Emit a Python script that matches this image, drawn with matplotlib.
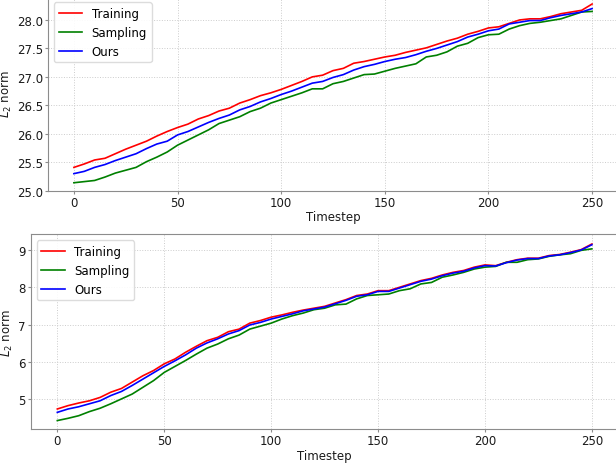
import matplotlib
matplotlib.use("Agg")
import matplotlib.pyplot as plt
import numpy as np

# timesteps sampled every 5 steps
steps = list(range(0, 251, 5))

# --- top panel ---
top_training = [25.41, 25.47, 25.54, 25.57, 25.65, 25.73, 25.80, 25.87, 25.96, 26.04,
                26.11, 26.17, 26.26, 26.32, 26.40, 26.45, 26.54, 26.60, 26.67, 26.72,
                26.78, 26.85, 26.92, 27.00, 27.03, 27.11, 27.15, 27.24, 27.27, 27.31,
                27.35, 27.38, 27.43, 27.47, 27.51, 27.57, 27.63, 27.68, 27.75, 27.80,
                27.86, 27.88, 27.94, 28.00, 28.02, 28.02, 28.06, 28.11, 28.14, 28.17,
                28.28]
top_sampling = [25.14, 25.16, 25.18, 25.24, 25.31, 25.36, 25.41, 25.51, 25.59, 25.68,
                25.80, 25.89, 25.98, 26.07, 26.18, 26.24, 26.30, 26.39, 26.45, 26.54,
                26.60, 26.66, 26.72, 26.79, 26.79, 26.88, 26.92, 26.98, 27.04, 27.05,
                27.10, 27.15, 27.19, 27.23, 27.35, 27.38, 27.44, 27.54, 27.59, 27.69,
                27.74, 27.75, 27.84, 27.90, 27.94, 27.96, 27.99, 28.02, 28.08, 28.14,
                28.15]
top_ours = [25.30, 25.34, 25.41, 25.46, 25.53, 25.59, 25.65, 25.74, 25.82, 25.87,
            25.98, 26.04, 26.12, 26.20, 26.27, 26.33, 26.42, 26.48, 26.56, 26.62,
            26.69, 26.75, 26.82, 26.89, 26.92, 26.99, 27.04, 27.12, 27.18, 27.22,
            27.27, 27.31, 27.34, 27.39, 27.45, 27.50, 27.56, 27.62, 27.70, 27.75,
            27.81, 27.84, 27.93, 27.96, 27.99, 27.99, 28.04, 28.08, 28.11, 28.14,
            28.20]

# --- bottom panel ---
bot_training = [4.74, 4.83, 4.90, 4.96, 5.05, 5.19, 5.29, 5.46, 5.63, 5.77,
                5.95, 6.08, 6.26, 6.42, 6.57, 6.66, 6.81, 6.88, 7.04, 7.11,
                7.20, 7.26, 7.33, 7.39, 7.44, 7.49, 7.58, 7.67, 7.78, 7.82,
                7.91, 7.91, 8.00, 8.09, 8.18, 8.24, 8.33, 8.40, 8.45, 8.54,
                8.60, 8.58, 8.67, 8.74, 8.78, 8.78, 8.85, 8.88, 8.94, 9.01,
                9.16]
bot_sampling = [4.43, 4.49, 4.56, 4.67, 4.76, 4.88, 5.01, 5.14, 5.32, 5.50,
                5.72, 5.88, 6.04, 6.21, 6.37, 6.48, 6.62, 6.72, 6.88, 6.96,
                7.04, 7.15, 7.24, 7.31, 7.40, 7.44, 7.53, 7.55, 7.69, 7.78,
                7.80, 7.82, 7.91, 7.96, 8.09, 8.13, 8.27, 8.33, 8.40, 8.49,
                8.54, 8.56, 8.67, 8.67, 8.74, 8.76, 8.83, 8.87, 8.90, 8.99,
                9.03]
bot_ours = [4.65, 4.74, 4.80, 4.88, 4.96, 5.10, 5.21, 5.37, 5.54, 5.71,
            5.88, 6.03, 6.19, 6.37, 6.51, 6.62, 6.75, 6.84, 6.99, 7.06,
            7.15, 7.22, 7.29, 7.37, 7.42, 7.47, 7.56, 7.65, 7.76, 7.80,
            7.89, 7.89, 7.98, 8.07, 8.16, 8.22, 8.31, 8.38, 8.43, 8.52,
            8.58, 8.57, 8.66, 8.73, 8.77, 8.77, 8.84, 8.87, 8.93, 9.00,
            9.14]

plt.rcParams['font.size'] = 8.5

fig = plt.figure(figsize=(6.16, 4.64), dpi=100)
ax1 = fig.add_axes([48 / 616, 1 - 192 / 464, 570 / 616, 192 / 464 + 0.01])
ax2 = fig.add_axes([30.6 / 616, 1 - 430.3 / 464, 588 / 616, 195 / 464])

panels = [
    (ax1, top_training, top_sampling, top_ours, (24.995, 28.45)),
    (ax2, bot_training, bot_sampling, bot_ours, (4.196, 9.42)),
]

for ax, tr, sa, ou, ylim in panels:
    ax.plot(steps, tr, color='red', lw=1.2, label='Training')
    ax.plot(steps, sa, color='green', lw=1.2, label='Sampling')
    ax.plot(steps, ou, color='blue', lw=1.2, label='Ours')
    ax.set_xlim(-12.5, 262.5)
    ax.set_ylim(*ylim)
    ax.set_xticks([0, 50, 100, 150, 200, 250])
    ax.grid(True, linestyle=':', color='0.8', lw=0.7)
    ax.set_axisbelow(True)
    for s in ax.spines.values():
        s.set_color('0.55')
    ax.tick_params(color='0.55', length=2, pad=1.5, labelcolor='0.1')
    ax.set_xlabel('Timestep', color='0.1', labelpad=1)
    ax.set_ylabel('$L_2$ norm', color='0.1', labelpad=2)

ax1.legend(loc='upper left', framealpha=0.9, edgecolor='0.85',
           bbox_to_anchor=(0, 0.99))
ax2.legend(loc='upper left', framealpha=0.9, edgecolor='0.85')

fig.savefig('out.png', dpi=100)
